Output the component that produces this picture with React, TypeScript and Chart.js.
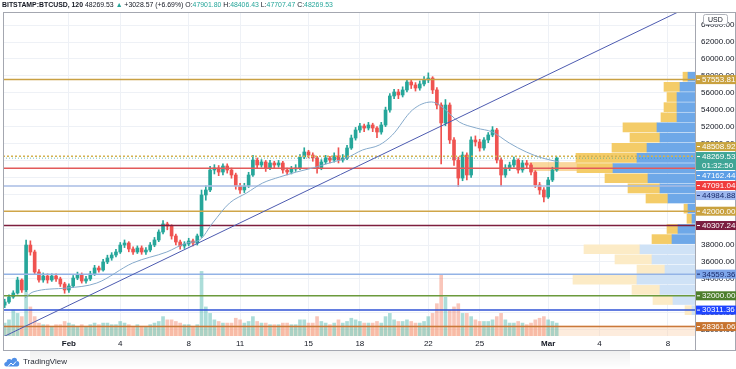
import React, { useEffect, useRef } from 'react';
import { Chart, registerables } from 'chart.js';
Chart.register(...registerables);

// ---------- DATA (time in days since 2021-02-01 00:00, 6h candles) ----------
const firstCandleDay = -3.75;
const candleStepDays = 0.25;
const firstOpen = 30900;
const closes = [
  31270, 31860, 32330, 33870, 32690, 38000, 37180, 34810, 33870, 34340,
  33870, 34340, 33990, 33400, 32690, 33160, 34100, 34460, 33750, 33990,
  34580, 35290, 35050, 36000, 36470, 36820, 37180, 38000, 38240, 37530,
  37180, 37650, 37180, 37410, 38000, 38600, 39540, 40490, 40250, 39070,
  38360, 37890, 38120, 38480, 38240, 39070, 43920, 44510, 46870, 47110,
  46630, 47340, 46870, 46280, 44980, 44510, 44980, 46280, 48050, 47460,
  47820, 47110, 47700, 47460, 47700, 46870, 46630, 46990, 47110, 48410,
  49000, 48640, 48290, 47110, 47820, 48290, 48050, 48530, 48050, 48290,
  49470, 50650, 51600, 52070, 51830, 52190, 51830, 51360, 52190, 53960,
  55620, 56090, 55740, 56330, 57270, 56920, 56560, 57040, 57510, 57740,
  56330, 54550, 52430, 54550, 50420, 48050, 45920, 48640, 46280, 50420,
  50180, 49470, 50420, 51010, 51600, 48050, 46280, 47110, 47460, 48050,
  46870, 47700, 47460, 46630, 45100, 44510, 43680, 45690, 46870, 48270,
];
const highs = [
  31600, 32100, 32600, 34200, 34000, 38600, 38500, 37400, 35100, 34700,
  34600, 34600, 34600, 34200, 33600, 33400, 34400, 34800, 34700, 34300,
  34900, 35600, 35500, 36300, 36800, 37100, 37500, 38300, 38600, 38400,
  37800, 37900, 37900, 37700, 38300, 38900, 39800, 40900, 40700, 40400,
  39300, 38600, 38400, 38800, 38700, 39300, 44500, 45000, 47300, 47500,
  47400, 47600, 47600, 47100, 46500, 45300, 45300, 46600, 48600, 48300,
  48100, 48000, 48000, 47900, 48000, 47900, 47100, 47300, 47500, 48700,
  49500, 49200, 48900, 48500, 48100, 48600, 48500, 48900, 49500, 48700,
  49800, 51000, 51900, 52400, 52300, 52500, 52400, 52000, 52500, 54300,
  55900, 56400, 56400, 56700, 57600, 57500, 57200, 57400, 57900, 58350,
  57900, 56600, 54800, 55200, 54800, 50700, 48400, 49000, 48900, 50800,
  50900, 50500, 50700, 51300, 52000, 51800, 48300, 47500, 47800, 48400,
  48200, 48000, 48000, 47700, 46800, 45400, 44800, 46000, 47200, 48410,
];
const lows = [
  30600, 31100, 31700, 32200, 32400, 32500, 36800, 34500, 33600, 33600,
  33500, 33700, 33700, 33100, 32300, 32400, 33000, 33900, 33500, 33500,
  33800, 34400, 34800, 34900, 35800, 36200, 36600, 37000, 37700, 37200,
  36900, 37000, 36900, 36900, 37200, 37800, 38400, 39300, 39800, 38700,
  38000, 37500, 37600, 37900, 37900, 38000, 38900, 43300, 44300, 46400,
  46200, 46300, 46500, 45900, 44600, 44100, 44200, 44800, 46100, 47100,
  47200, 46700, 46900, 47100, 47200, 46500, 46300, 46400, 46700, 46900,
  48200, 48300, 47900, 46500, 46900, 47600, 47700, 47800, 47700, 47800,
  48100, 49300, 50400, 51300, 51400, 51600, 51400, 50700, 51100, 52000,
  53700, 55300, 55300, 55500, 56100, 56500, 56200, 56300, 56800, 57200,
  55900, 54100, 47600, 52100, 50000, 47400, 44900, 45600, 45700, 46000,
  49700, 49100, 49200, 50100, 50800, 47700, 45000, 46000, 46800, 47200,
  46500, 46600, 47100, 46300, 44800, 44000, 43100, 43500, 45500, 46700,
];
const volumes = [
  4, 5, 8, 7, 6, 14, 9, 6, 4, 3.5,
  3.5, 3, 3.5, 3.5, 4.5, 4, 3.5, 3, 3.5, 3,
  3.5, 4, 3.5, 4, 4, 3.5, 3.5, 4.5, 4, 3.5,
  3, 3.5, 3, 3, 3.5, 4, 4.5, 6, 5, 5,
  4.5, 4, 3.5, 3.5, 3, 3.5, 20, 9, 7, 5,
  4.5, 4, 4, 4, 5.5, 5, 4, 4.5, 6, 4.5,
  4, 4, 3.5, 3.5, 3.5, 4, 4, 3.5, 3.5, 5,
  5, 4, 4, 6, 4.5, 4, 3.5, 4, 5, 4,
  4.5, 5.5, 5, 4.5, 4, 4, 4, 4.5, 4, 6,
  7, 5, 4.5, 4.5, 5, 4.5, 4, 4, 4.5, 6,
  7, 10, 19, 12, 8, 9, 10, 7, 7, 6,
  5, 4.5, 4.5, 4.5, 5, 6, 7, 5, 4, 4,
  4.5, 4, 3.5, 4, 5, 5.5, 6, 5, 4.5, 4,
];

// moving average
const maDays = [-2.57, -2.1, -0.12, 1.63, 3.73, 5.72, 6.88, 7.64, 8.4, 9.39, 10.38, 11.32, 12.31, 13.3, 14.24, 15.23, 16.22, 17.15, 18.14, 18.9, 20.07, 21.18, 21.65, 22.81, 23.8, 24.74, 25.73, 26.72, 27.65, 28.65];
const maValues = [31740, 32450, 32920, 33510, 35880, 37180, 38240, 38600, 40610, 42970, 44150, 45330, 46040, 46630, 47110, 47700, 48290, 49230, 49830, 51010, 53960, 54910, 54550, 52540, 51830, 51360, 50060, 49000, 48290, 47820];

// trend line
const trendDays = [-4, 37];
const trendValues = [26985, 66918];

// horizontal levels
const levelPrices = [57553.81, 48508.92, 47091.04, 44984.88, 42000, 40307.24, 34559.36, 32000, 30311.36, 28361.06];
const currentPrice = 48269.53;

// right-axis labels
const labelPrices = [57553.81, 48508.92, 48269.53, 47162.44, 47091.04, 44984.88, 42000, 40307.24, 34559.36, 32000, 30311.36, 28361.06];
const labelTexts = ['57553.81', '48508.92', '48269.53', '47162.44', '47091.04', '44984.88', '42000.00', '40307.24', '34559.36', '32000.00', '30311.36', '28361.06'];
const countdownText = '01:32:50';

// volume profile (visible range), rows of 1200 USD
const vpRowPrices = [57900, 56700, 55500, 54300, 53100, 51900, 50700, 49500, 48300, 47100, 45900, 44700, 43500, 42300, 41100, 39900, 38700, 37500, 36300, 35100, 33900, 32700, 31500, 30300];
const vpUpVolume = [7, 15, 18, 18, 18, 38, 35, 48, 58, 82, 47, 35, 27, 7, 3, 17, 23, 55, 43, 30, 58, 35, 22, 3];
const vpDownVolume = [5, 16, 10, 13, 16, 34, 30, 35, 61, 36, 43, 32, 22, 4, 5, 11, 20, 56, 37, 28, 64, 28, 20, 7];
const vpValueAreaRows = 17;

// drawn rectangle & bottom band
const boxDays = [26.9, 29.7];
const boxPrices = [46750, 47800];
const bandPrices = [27248, 28500];

// axes
const xTickDays = [0, 3, 7, 10, 14, 17, 21, 24, 28, 31, 35];
const xTickLabels = ['Feb', '4', '8', '11', '15', '18', '22', '25', 'Mar', '4', '8'];
const yTicks = [28000, 30000, 32000, 34000, 36000, 38000, 40000, 42000, 44000, 46000, 48000, 50000, 52000, 54000, 56000, 58000, 60000, 62000, 64000];

// ---------- STYLE ----------
const X_MIN = -3.85, X_MAX = 36.58, Y_MIN = 27248, Y_MAX = 65428;
const UP = '#26a69a', DOWN = '#ef5350';
const levelColors = ['#c9a144', '#d4b24e', '#e25a5a', '#a8bce4', '#cfa548', '#7d1f3f', '#93b3e6', '#6b9a3c', '#2f52d6', '#c9783a'];
const levelDashed = [false, true, false, false, false, false, false, false, false, false];
const labelBg = ['#c9a13f', '#c9a540', '#3fa596', '#5b9ee6', '#f03c3c', '#9db8ef', '#c9a13f', '#7b1e40', '#7ea6ea', '#4e7f2d', '#1f45ff', '#c7742f'];
const labelFg = ['#fff', '#fff', '#fff', '#fff', '#fff', '#1a2a6a', '#fff', '#fff', '#1a2a6a', '#fff', '#fff', '#fff'];
const FONT = '"Liberation Sans", Arial, sans-serif';

const overlayPlugin = {
  id: 'overlay',
  beforeDatasetsDraw(chart: any) {
    const { ctx, chartArea: a, scales } = chart;
    const x = scales.x, y = scales.y;
    ctx.save();
    ctx.beginPath();
    ctx.rect(a.left, a.top, a.right - a.left, a.bottom - a.top);
    ctx.clip();
    const b1 = y.getPixelForValue(bandPrices[0]);
    const b2 = y.getPixelForValue(bandPrices[1]);
    ctx.fillStyle = 'rgba(250,208,170,0.40)';
    ctx.fillRect(a.left, b2, a.right - a.left, b1 - b2);
    const bx1 = x.getPixelForValue(boxDays[0]);
    const bx2 = x.getPixelForValue(boxDays[1]);
    const by1 = y.getPixelForValue(boxPrices[1]);
    const by2 = y.getPixelForValue(boxPrices[0]);
    ctx.fillStyle = 'rgba(245,166,35,0.45)';
    ctx.fillRect(bx1, by1, bx2 - bx1, by2 - by1);
    ctx.restore();
  },
  afterDraw(chart: any) {
    const { ctx, chartArea: a, scales } = chart;
    const y = scales.y;
    ctx.save();
    ctx.strokeStyle = '#a4a7b0';
    ctx.lineWidth = 1;
    ctx.strokeRect(3.5, a.top - 0.5, chart.width - 4, 338);
    ctx.beginPath();
    ctx.moveTo(a.right + 0.5, a.top - 0.5);
    ctx.lineTo(a.right + 0.5, a.top + 337.5);
    ctx.stroke();

    const items = labelPrices.map((p, i) => ({
      i, want: y.getPixelForValue(p), h: i === 2 ? 19 : 10,
    }));
    items.sort((m, n) => m.want - n.want);
    let clusters: any[][] = items.map((it) => [it]);
    const place = (c: any[]) => {
      const total = c.reduce((s, it) => s + it.h, 0);
      const center = (c[0].want + c[c.length - 1].want) / 2;
      return { top: center - total / 2, bottom: center + total / 2 };
    };
    let merged = true;
    while (merged) {
      merged = false;
      for (let k = 0; k < clusters.length - 1; k++) {
        if (place(clusters[k]).bottom > place(clusters[k + 1]).top) {
          clusters.splice(k, 2, [...clusters[k], ...clusters[k + 1]]);
          merged = true;
          break;
        }
      }
    }
    const x0 = a.right + 1;
    const w = chart.width - x0;
    ctx.font = '8px ' + FONT;
    ctx.textBaseline = 'middle';
    ctx.textAlign = 'left';
    for (const c of clusters) {
      let t = place(c).top;
      for (const it of c) {
        ctx.fillStyle = labelBg[it.i];
        ctx.fillRect(x0, t + 0.5, w, it.h - 1);
        ctx.fillStyle = labelFg[it.i];
        ctx.fillRect(x0 + 1, t + 4.5, 3, 1);
        ctx.fillText(labelTexts[it.i], x0 + 6, t + 5.2);
        if (it.i === 2) ctx.fillText(countdownText, x0 + 6, t + 14.2);
        t += it.h;
      }
    }
    const ux = a.right + 8, uy = a.top + 1.5;
    ctx.fillStyle = '#fff';
    ctx.strokeStyle = '#b0b3ba';
    ctx.beginPath();
    (ctx as any).roundRect(ux + 0.5, uy, 24, 10, 2);
    ctx.fill();
    ctx.stroke();
    ctx.fillStyle = '#131722';
    ctx.font = '7px ' + FONT;
    ctx.fillText('USD', ux + 5, uy + 5.3);
    ctx.restore();
  },
};

export default function App() {
  const ref = useRef<HTMLCanvasElement>(null);
  useEffect(() => {
    document.body.style.margin = '0';
    Chart.defaults.font.family = FONT;
    const days = closes.map((_, i) => firstCandleDay + i * candleStepDays);
    const opens = closes.map((c, i) => (i === 0 ? firstOpen : closes[i - 1]));
    const isUp = closes.map((c, i) => c >= opens[i]);
    const candleColors = isUp.map((u) => (u ? UP : DOWN));
    const volColors = isUp.map((u) => (u ? 'rgba(38,166,154,0.38)' : 'rgba(240,120,90,0.42)'));

    const levelSets = levelPrices.map((p, i) => ({
      type: 'line',
      data: [{ x: X_MIN, y: p }, { x: X_MAX, y: p }],
      borderColor: levelColors[i],
      borderWidth: 1.5,
      borderDash: levelDashed[i] ? [2, 2] : [],
      pointRadius: 0,
      order: 1,
    }));

    const strongBlue = '#6ea8e8', strongYel = '#f4cc68', lightBlue = '#cfe2f6', lightYel = '#fcebc6';

    const chart = new Chart(ref.current as HTMLCanvasElement, {
      type: 'line',
      data: {
        datasets: [
          {
            type: 'bar', indexAxis: 'y', xAxisID: 'xvp', yAxisID: 'y',
            data: vpRowPrices.map((p, i) => ({ x: [0, vpUpVolume[i]], y: p })),
            backgroundColor: vpRowPrices.map((_, i) => (i < vpValueAreaRows ? strongBlue : lightBlue)),
            barThickness: 9, grouped: false, order: 3,
          },
          {
            type: 'bar', indexAxis: 'y', xAxisID: 'xvp', yAxisID: 'y',
            data: vpRowPrices.map((p, i) => ({ x: [vpUpVolume[i], vpUpVolume[i] + vpDownVolume[i]], y: p })),
            backgroundColor: vpRowPrices.map((_, i) => (i < vpValueAreaRows ? strongYel : lightYel)),
            barThickness: 9, grouped: false, order: 3,
          },
          ...levelSets,
          {
            type: 'line',
            data: [{ x: X_MIN, y: currentPrice }, { x: X_MAX, y: currentPrice }],
            borderColor: 'rgba(63,165,150,0.7)', borderWidth: 1, borderDash: [1, 2],
            pointRadius: 0, order: 1,
          },
          {
            type: 'line',
            data: trendDays.map((d, i) => ({ x: d, y: trendValues[i] })),
            borderColor: '#4d5bb0', borderWidth: 1, pointRadius: 0, order: 0,
          },
          {
            type: 'line',
            data: maDays.map((d, i) => ({ x: d, y: maValues[i] })),
            borderColor: '#86aacb', borderWidth: 1, pointRadius: 0,
            cubicInterpolationMode: 'monotone', order: 0,
          },
          {
            type: 'bar', xAxisID: 'x', yAxisID: 'y',
            data: days.map((d, i) => ({ x: d, y: [opens[i], closes[i]] })),
            backgroundColor: candleColors, barThickness: 3, grouped: false, order: 1.5,
          },
          {
            type: 'bar', xAxisID: 'x', yAxisID: 'y',
            data: days.map((d, i) => ({ x: d, y: [lows[i], highs[i]] })),
            backgroundColor: candleColors, barThickness: 1, grouped: false, order: 1.6,
          },
          {
            type: 'bar', xAxisID: 'x', yAxisID: 'yv',
            data: days.map((d, i) => ({ x: d, y: volumes[i] })),
            backgroundColor: volColors, barThickness: 3, grouped: false, order: 5,
          },
        ] as any,
      },
      options: {
        responsive: false,
        animation: false,
        events: [],
        layout: { padding: { left: 3, top: 13, right: 0, bottom: 18 } },
        plugins: { legend: { display: false }, tooltip: { enabled: false } },
        scales: {
          x: {
            type: 'linear', min: X_MIN, max: X_MAX, position: 'bottom', offset: false,
            grid: { color: '#eef1f6', drawTicks: false, offset: false },
            border: { display: false },
            afterBuildTicks: (s: any) => { s.ticks = xTickDays.map((v) => ({ value: v })); },
            afterFit: (s: any) => { s.height = 15; },
            ticks: {
              autoSkip: false, maxRotation: 0, padding: 3, color: '#131722',
              callback: (_v: any, i: number) => xTickLabels[i],
              font: (c: any) => ({ size: 8, weight: xTickLabels[c.index] === 'Feb' || xTickLabels[c.index] === 'Mar' ? 'bold' : 'normal' }),
            },
          },
          y: {
            type: 'linear', min: Y_MIN, max: Y_MAX, position: 'right', offset: false,
            grid: { color: '#eef1f6', drawTicks: false, offset: false },
            border: { display: false },
            afterBuildTicks: (s: any) => { s.ticks = yTicks.map((v) => ({ value: v })); },
            afterFit: (s: any) => { s.width = 41; },
            ticks: {
              padding: 6, color: '#131722', font: { size: 8 },
              callback: (v: any) => Number(v).toFixed(2),
            },
          },
          yv: { type: 'linear', min: 0, max: 100, display: false, offset: false },
          xvp: { type: 'linear', min: 0, max: 692, reverse: true, display: false, offset: false },
        },
      } as any,
      plugins: [overlayPlugin],
    });
    return () => chart.destroy();
  }, []);

  const teal = '#26a69a';
  return (
    <div style={{ position: 'absolute', left: 0, top: 0, width: 736, height: 369, background: '#fff', overflow: 'hidden' }}>
      <canvas ref={ref} width={736} height={369} style={{ position: 'absolute', left: 0, top: 0 }} />
      <div style={{ position: 'absolute', left: 2, top: 0, fontFamily: FONT, fontSize: 6.9, lineHeight: '10px', whiteSpace: 'nowrap', color: '#131722' }}>
        <b>BITSTAMP:BTCUSD, 120</b> 48269.53 <span style={{ color: teal }}>▲</span> +3028.57 (+6.69%) O:<span style={{ color: teal }}>47901.80</span> H:<span style={{ color: teal }}>48406.43</span> L:<span style={{ color: teal }}>47707.47</span> C:<span style={{ color: teal }}>48269.53</span>
      </div>
      <div style={{ position: 'absolute', left: 30, top: 351, width: 600, height: 18, background: 'linear-gradient(to bottom, rgba(0,0,0,0.06), rgba(0,0,0,0))' }} />
      <div style={{ position: 'absolute', left: 3, top: 356, display: 'flex', alignItems: 'center', fontFamily: FONT, fontSize: 8, color: '#2a2e39' }}>
        <svg width="17" height="11" viewBox="0 0 17 11" style={{ marginRight: 3 }}>
          <path d="M3.5 10.5 C0.5 10.5 0.5 6 3.5 6 C3.5 3 7 2 8.5 4 C9.5 1 14.5 1 14 5 C17 5 17 10.5 14 10.5 Z" fill="#4f8fe8" />
          <path d="M5 10.5 L8 7 L10 9 L13 5.5" stroke="#fff" strokeWidth="1" fill="none" />
        </svg>
        <span>TradingView</span>
      </div>
    </div>
  );
}
